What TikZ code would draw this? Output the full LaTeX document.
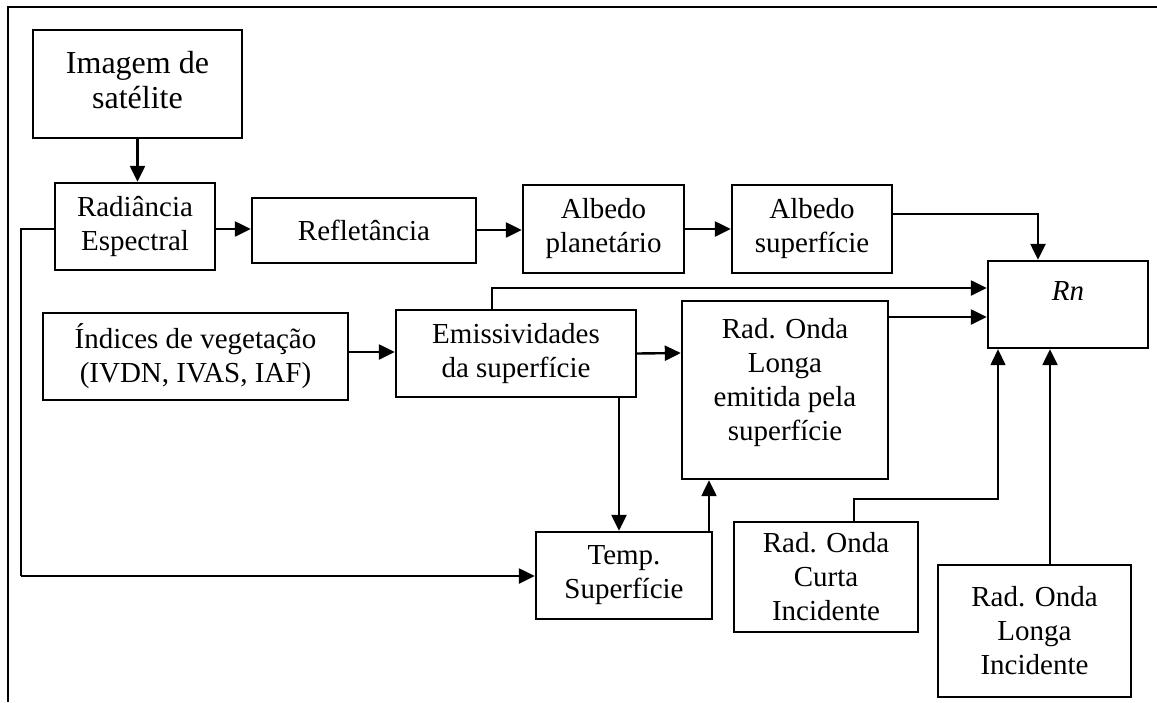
\documentclass[tikz,border=0pt]{standalone}
\usepackage{fontspec}
\setmainfont{Liberation Serif}
\usetikzlibrary{arrows.meta,calc}
\begin{document}
\begin{tikzpicture}[x=1pt,y=-1pt,
  box/.style={draw, line width=2.4pt, rectangle, inner sep=0pt, align=center,
    font=\fontsize{29}{34}\selectfont},
  arr/.style={line width=2.4pt, -{Triangle[length=16pt,width=15pt]}},
  thinline/.style={line width=1.5pt},
  frame/.style={line width=2.4pt}]
\useasboundingbox (0,0) rectangle (1157,702);
\draw[frame] (1157,7) -- (8,7) -- (8,702);

\node[box, minimum width=209pt, minimum height=108pt, text depth=8pt, font=\fontsize{32}{35}\selectfont] (img) at (137.5,84) {Imagem de\\satélite};
\node[box, minimum width=160pt, minimum height=87pt] (rad) at (135,226.5) {Radiância\\Espectral};
\node[box, minimum width=224pt, minimum height=65pt] (refl) at (364,230.5) {Refletância};
\node[box, minimum width=161pt, minimum height=88pt] (albp) at (603.5,229) {Albedo\\planetário};
\node[box, minimum width=160pt, minimum height=88pt] (albs) at (812,229) {Albedo\\superfície};
\node[box, minimum width=160pt, minimum height=87pt, text depth=28pt, font=\fontsize{29}{34}\selectfont\itshape] (rn) at (1068,304.5) {Rn};
\node[box, minimum width=305pt, minimum height=87pt] (ind) at (195.5,356.5) {Índices de vegetação\\(IVDN, IVAS, IAF)};
\node[box, minimum width=240pt, minimum height=87pt] (emis) at (516,353.5) {Emissividades\\da superfície};
\node[box, minimum width=206pt, minimum height=178pt, text depth=22pt] (rol) at (785,390) {Rad. Onda\\Longa\\emitida pela\\superfície};
\node[box, minimum width=176pt, minimum height=87pt] (temp) at (624,575.5) {Temp.\\Superfície};
\node[box, minimum width=184pt, minimum height=110pt] (roc) at (826,577) {Rad. Onda\\Curta\\Incidente};
\node[box, minimum width=193pt, minimum height=132pt] (roli) at (1034.5,631) {Rad. Onda\\Longa\\Incidente};

\coordinate (c1) at (21,229);
\coordinate (c2) at (21,576);
\coordinate (c3) at (998,499);

\draw[arr] (img.south) -- (img.south |- rad.north);
\draw[arr] ($(rad.east)+(0,2.5)$) -- ($(refl.west)+(0,-1.5)$);
\draw[arr] ($(refl.east)+(0,-0.5)$) -- ($(albp.west)+(0,1)$);
\draw[arr] (albp.east) -- (albs.west);
\draw[arr] ($(albs.east)+(0,-15)$) -| ($(rn.north)+(-30,0)$);
\draw[arr] ($(emis.north)+(-24,0)$) |- ($(rn.west)+(0,-16.5)$);
\draw[arr] ($(rol.east)+(0,-73)$) -- ($(rn.west)+(0,12.5)$);
\draw[arr] ($(ind.east)+(0,-4.5)$) -- ($(emis.west)+(0,-1.5)$);
\draw[arr] (emis.east) -- ($(rol.west)+(0,-37)$);
\draw[arr] ($(emis.south)+(103,0)$) -- ($(temp.north)+(-5,0)$);
\draw[arr] ($(temp.north)+(85,0)$) -- ($(rol.south)+(-76,0)$);
\draw[thinline] ($(rad.west)+(0,2.5)$) -- (c1) -- (c2);
\draw[arr] (c2) -- (c2 -| temp.west);
\draw[arr, thinline] ($(roc.north)+(28,0)$) |- (c3) -- (c3 |- rn.south);
\draw[arr] ($(roli.north)+(15.5,0)$) -- ($(rn.south)+(-18,0)$);
\end{tikzpicture}
\end{document}
